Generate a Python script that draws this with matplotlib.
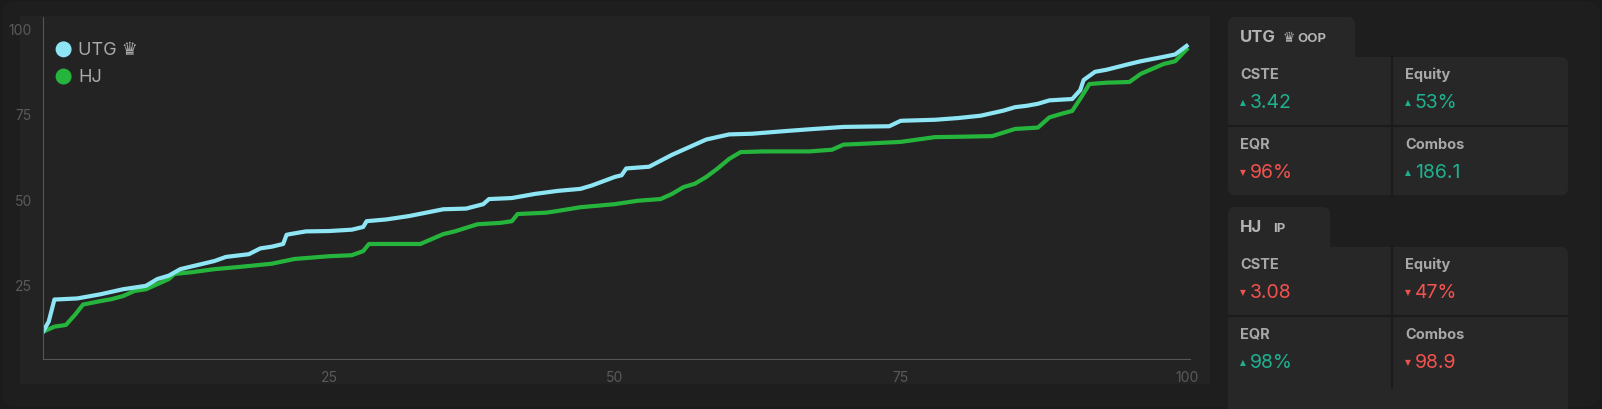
import matplotlib.pyplot as plt
from matplotlib.patches import FancyBboxPatch, Rectangle

plt.rcParams['font.family'] = ['Inter', 'DejaVu Sans']

# equity distribution (percentile of range -> equity)
utg_x = [0, 0.5, 1, 1.2, 3, 5, 7, 9, 10, 11, 12, 13, 15, 16, 18, 19, 20, 21, 21.3, 21.6, 23, 25, 27, 28, 28.3, 30, 32, 35, 37, 38.5, 39, 41,
         43, 45, 47, 48, 50, 50.6, 51, 53, 55, 56, 57, 58, 60, 62, 65, 67, 70, 72, 74, 75, 78, 80, 82, 84, 85, 86, 87, 88, 90, 90.7,
         91, 92, 93, 95, 96, 98, 99, 100]
utg_y = [11, 14, 20.5, 20.5, 20.8, 22, 23.5, 24.5, 26.5, 27.5, 29.4, 30.2, 31.8, 33, 33.8, 35.5, 36, 36.8, 39.5, 39.7, 40.5, 40.6, 41, 41.8, 43.5, 44,
         45, 47, 47.2, 48.5, 50, 50.3, 51.5, 52.4, 53, 54, 56.5, 57, 59, 59.5, 63, 64.5, 66, 67.5, 69, 69.2, 70, 70.5, 71.2, 71.3, 71.4, 73, 73.3, 73.8, 74.5, 76,
         77, 77.4, 78, 79, 79.4, 82, 85, 87.4, 88, 89.7, 90.5, 91.8, 92.5, 95]
hj_x = [0, 1, 2, 2.8, 3.5, 5, 6, 7, 8, 9, 10, 11, 11.5, 13, 15, 17, 20, 22, 25, 27, 28, 28.5, 30, 33, 35, 36, 38, 40, 41, 41.5, 44, 45, 47,
        50, 52, 54, 55, 56, 57, 58, 59, 60, 61, 63, 67, 69, 70, 72, 75, 78, 80, 83, 85, 87, 88, 89, 90, 90.8, 91.5, 93, 95, 96, 98, 99, 100]
hj_y = [11, 12.5, 13, 16, 19, 20, 20.6, 21.5, 23, 23.5, 25, 26.5, 28, 28.5, 29.4, 30, 31, 32.4, 33.2, 33.5, 34.7, 36.8, 36.8, 36.8, 39.7, 40.5, 42.6, 43, 43.5, 45.6,
        46, 46.5, 47.6, 48.5, 49.5, 50, 51.5, 53.5, 54.5, 56.5, 59, 61.8, 63.8, 64, 64, 64.5, 66, 66.3, 66.8, 68.2, 68.3, 68.5, 70.6, 71, 74, 75, 75.9, 80, 83.8, 84.2, 84.4, 86.8,
        89.7, 90.5, 94]

x_ticks = [25, 50, 75, 100]
y_ticks = [25, 50, 75, 100]

# stat cards
cards = [
    {"name": "UTG", "crown": True, "pos": "OOP",
     "stats": [("CSTE", "3.42", True), ("Equity", "53%", True), ("EQR", "96%", False), ("Combos", "186.1", True)]},
    {"name": "HJ", "crown": False, "pos": "IP",
     "stats": [("CSTE", "3.08", False), ("Equity", "47%", False), ("EQR", "98%", True), ("Combos", "98.9", False)]},
]

UP = "#1fb08f"
DOWN = "#f0524f"
W, H = 1602, 410

fig = plt.figure(figsize=(W / 100, H / 100), dpi=100)
fig.patch.set_facecolor("#1b1b1b")

# background overlay in pixel coordinates
bg = fig.add_axes([0, 0, 1, 1], zorder=0)
bg.set_xlim(0, W)
bg.set_ylim(H, 0)
bg.axis("off")
bg.add_patch(FancyBboxPatch((2, 2), W - 4, H - 4, boxstyle="round,pad=0,rounding_size=14", fc="#1e1e1e", ec="none"))
bg.add_patch(Rectangle((20, 17), 1190, 368, fc="#232323", ec="none"))

card_tops = [18, 208]
tab_w = [127, 102]
for card, top, tw in zip(cards, card_tops, tab_w):
    bg.add_patch(FancyBboxPatch((1228, top), tw, 50, boxstyle="round,pad=0,rounding_size=7", fc="#272727", ec="none"))
    body_h = 200 if top > 100 else 138
    bg.add_patch(FancyBboxPatch((1228, top + 40), 340, body_h, boxstyle="round,pad=0,rounding_size=7", fc="#272727", ec="none"))
    bg.plot([1392, 1392], [top + 40, top + 40 + min(body_h, 140)], color="#1b1b1b", lw=1.5)
    bg.plot([1228, 1568], [top + 109, top + 109], color="#1b1b1b", lw=1.5)
    bg.text(1240, top + 20, card["name"], color="#b4b4b4", fontsize=12, fontweight="bold", va="center")
    if card["crown"]:
        bg.text(1282, top + 20, "\u265b", color="#b4b4b4", fontsize=10, va="center")
        bg.text(1297, top + 21, card["pos"], color="#b4b4b4", fontsize=9.5, fontweight="bold", va="center")
    else:
        bg.text(1273, top + 21, card["pos"], color="#b4b4b4", fontsize=9.5, fontweight="bold", va="center")
    for i, (lab, val, up) in enumerate(card["stats"]):
        cx = 1240 + (i % 2) * 165
        cy = top + 57 + (i // 2) * 70
        bg.text(cx, cy, lab, color="#a8a8a8", fontsize=10.5, fontweight="bold", va="center")
        col = UP if up else DOWN
        bg.text(cx, cy + 28, "\u25b2" if up else "\u25bc", color=col, fontsize=5.5, va="center", family="DejaVu Sans")
        bg.text(cx + 10, cy + 28, val, color=col, fontsize=14, va="center")

ax = fig.add_axes([43 / W, 1 - 360 / H, (1190 - 43) / W, (360 - 18) / H], zorder=1)
ax.set_facecolor("none")
ax.plot(hj_x, hj_y, color="#26b53c", lw=3, solid_joinstyle="round")
ax.plot(utg_x, utg_y, color="#8ee6f5", lw=3, solid_joinstyle="round")
ax.set_xlim(0, 100.3)
ax.set_ylim(3, 103.5)
ax.set_xticks(x_ticks)
ax.set_yticks(y_ticks)
ax.tick_params(colors="#5a5a5a", labelsize=10, length=0, pad=8)
for s in ["top", "right"]:
    ax.spines[s].set_visible(False)
for s in ["left", "bottom"]:
    ax.spines[s].set_color("#555555")

# legend
ax.scatter([1.8, 1.8], [94, 86], s=110, color=["#8ee6f5", "#26b53c"], zorder=3)
ax.text(3.1, 94, "UTG \u265b", color="#aaaaaa", fontsize=13, va="center")
ax.text(3.1, 86, "HJ", color="#aaaaaa", fontsize=13, va="center")

fig.savefig("out.png", dpi=100, facecolor=fig.get_facecolor())
